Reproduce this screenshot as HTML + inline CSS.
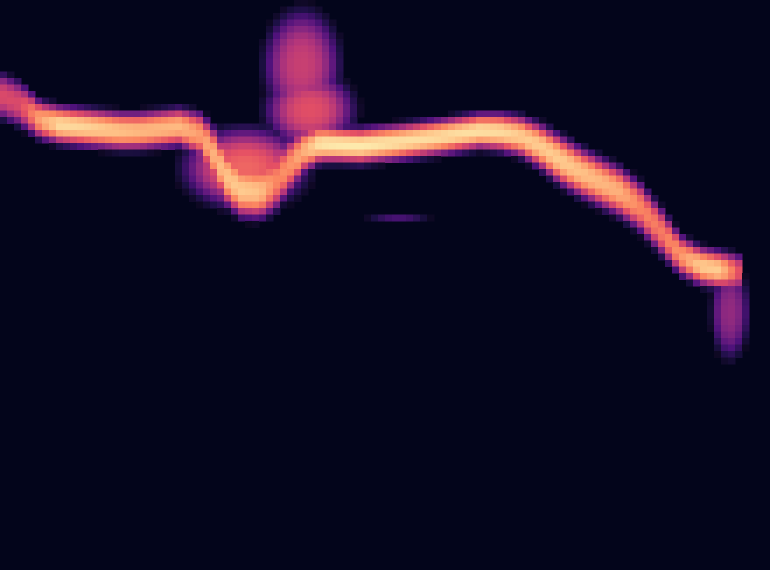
<!DOCTYPE html>
<html><head><meta charset="utf-8"><style>
html,body{margin:0;padding:0;background:#03051b;}
svg{display:block;}
</style></head><body>
<svg id="chart" width="770" height="570" viewBox="0 0 770 570">
<rect x="0" y="0" width="770" height="570" fill="#03051b"/>
<g id="cells"></g>
</svg>
<script>
// ridge control points (x position, center row value, half-width, peak intensity)
const ridgeX = [0,20,40,60,80,100,120,140,160,180,200,212,225,240,260,275,290,305,320,340,360,400,440,480,500,520,540,560,580,600,620,640,660,680,700,720,738,745];
const ridgeY = [95,104,120,125,127,129,131,131,129,127,135,152,175,190,192,182,165,150,144,145,146,142,137,131,132,136,146,160,172,182,192,207,230,255,266,270,272,274];
const ridgeW = [20,20,17,17,17,17,17,17,17,17,20,24,26,24,24,26,24,20,17,16,16,16,16,16,17,18,20,22,22,22,22,22,21,18,17,17,16,12];
const ridgeV = [0.6,0.6,0.82,0.93,0.92,0.9,0.88,0.86,0.86,0.86,0.8,0.84,0.88,0.9,0.88,0.75,0.78,0.85,0.95,0.96,0.96,0.94,0.93,0.94,0.93,0.9,0.9,0.9,0.88,0.86,0.84,0.75,0.72,0.78,0.9,0.9,0.65,0.45];
// extra blobs: plume above dip, dip fill, lower tail, faint line
const blobCX = [302,310,245,730,398];
const blobCY = [65,110,168,312,220];
const blobRX = [36,42,58,18,38];
const blobRY = [52,35,38,45,3];
const blobV  = [0.55,0.62,0.68,0.42,0.35];

const CW=7, CH=6.5;
const magma=[[0,[0,0,4]],[0.13,[28,16,68]],[0.25,[79,18,123]],[0.38,[129,37,129]],[0.5,[181,54,122]],[0.63,[229,80,100]],[0.75,[251,135,97]],[0.88,[254,194,135]],[1,[252,253,191]]];
function color(v){
  v=Math.max(0.02,Math.min(1,v));
  for(let i=1;i<magma.length;i++){
    if(v<=magma[i][0]){const a=magma[i-1],b=magma[i];const t=(v-a[0])/(b[0]-a[0]);
      return 'rgb('+a[1].map((c,k)=>Math.round(c+(b[1][k]-c)*t)).join(',')+')';}
  }
  return 'rgb(252,253,191)';
}
function interp(arr,x){
  if(x<=ridgeX[0])return arr[0];
  for(let i=1;i<ridgeX.length;i++){ if(x<=ridgeX[i]){const t=(x-ridgeX[i-1])/(ridgeX[i]-ridgeX[i-1]);return arr[i-1]+(arr[i]-arr[i-1])*t;} }
  return null;
}
const g=document.getElementById('cells');
const ns='http://www.w3.org/2000/svg';
const cols=Math.ceil(770/CW), rows=Math.ceil(570/CH);
for(let c=0;c<cols;c++){
  const x=c*CW+CW/2;
  const cy=interp(ridgeY,x), hw=interp(ridgeW,x), pv=interp(ridgeV,x);
  for(let r=0;r<rows;r++){
    const y=r*CH+CH/2;
    let v=0;
    if(cy!==null){const d=(y-cy)/hw; v=pv*Math.exp(-d*d*d*d*0.5-d*d*0.4);}
    for(let b=0;b<blobCX.length;b++){
      const dx=(x-blobCX[b])/blobRX[b], dy=(y-blobCY[b])/blobRY[b];
      const q=dx*dx+dy*dy;
      v=Math.max(v,blobV[b]*Math.exp(-q*q*0.8-q*0.3));
    }
    if(v<0.06)continue;
    const rc=document.createElementNS(ns,'rect');
    rc.setAttribute('x',c*CW);rc.setAttribute('y',r*CH);
    rc.setAttribute('width',CW+0.5);rc.setAttribute('height',CH+0.5);
    rc.setAttribute('fill',color(v));
    
    
    g.appendChild(rc);
  }
}
</script>
</body></html>
